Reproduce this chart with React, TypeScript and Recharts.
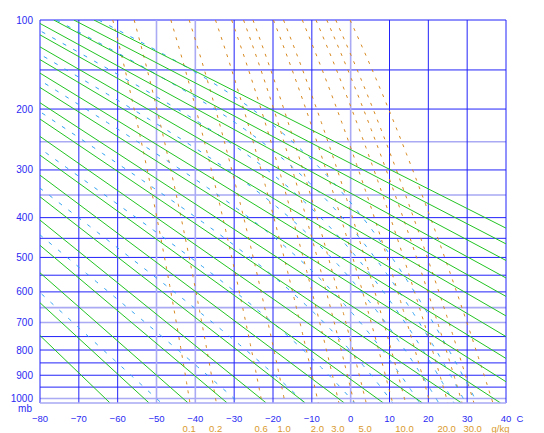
import React from "react";
import { LineChart, Line, XAxis, YAxis, ReferenceLine } from "recharts";

// Stuve diagram: x = temperature (C), y = pressure^kappa
const KAPPA = 0.286;
const TOP_P = 100;
const BOTTOM_P = 1020;

const isobars = [
  100, 150, 200, 250, 300, 350, 400, 450, 500, 550, 600, 650, 700, 750, 800,
  850, 900, 950, 1000,
];
const lightIsobars = [250, 350, 650, 700, 1000];
const pressureLabels = [100, 200, 300, 400, 500, 600, 700, 800, 900, 1000];
const isotherms = [-80, -70, -60, -50, -40, -30, -20, -10, 0, 10, 20, 30, 40];
const lightIsotherms = [-50, -40, 0];

// dry adiabats, potential temperature (K)
const dryAdiabats = [
  210, 220, 230, 240, 250, 260, 270, 280, 290, 300, 310, 320, 330, 340, 350,
  360, 370, 380, 390, 400,
];
// moist adiabats, temperature at 1000 mb (C)
const moistAdiabats = [-50, -30, -13, 0, 10, 17, 22, 26, 29, 32];
// saturation mixing ratio lines (g/kg)
const mixingRatios = [0.1, 0.2, 0.6, 1, 2, 3, 4, 5, 8, 10, 15, 20, 25, 30, 40];
const mixingLabels = [0.1, 0.2, 0.6, 1, 2, 3, 5, 10, 20, 30];
const unitLabel = "g/kg";

const RD = 287.04;
const CP = 1005.7;
const LV = 2.501e6;
const EPS = 0.622;

const ps = (p: number) => Math.pow(p, KAPPA);

const dewT = (w: number, p: number) => {
  const e = (w * p) / (622 + w);
  const l = Math.log(e / 6.112);
  return (243.5 * l) / (17.67 - l);
};

const satMix = (tK: number, p: number) => {
  const tc = tK - 273.15;
  const es = 6.112 * Math.exp((17.67 * tc) / (tc + 243.5));
  return (EPS * es) / (p - es);
};

const lapse = (tK: number, p: number) => {
  const rs = satMix(tK, p);
  return (RD * tK + LV * rs) / (CP + (LV * LV * rs * EPS) / (RD * tK * tK)) / p;
};

const integrate = (t0: number, from: number, to: number, h: number) => {
  const pts: { x: number; y: number }[] = [];
  let t = t0;
  let p = from;
  while ((h < 0 && p > to) || (h > 0 && p < to)) {
    const k1 = lapse(t, p);
    const k2 = lapse(t + (h / 2) * k1, p + h / 2);
    const k3 = lapse(t + (h / 2) * k2, p + h / 2);
    const k4 = lapse(t + h * k3, p + h);
    t += (h / 6) * (k1 + 2 * k2 + 2 * k3 + k4);
    p += h;
    pts.push({ x: t - 273.15, y: ps(p) });
  }
  return pts;
};

const moistLine = (tw: number) => {
  const up = integrate(tw + 273.15, 1000, TOP_P, -5).reverse();
  const down = integrate(tw + 273.15, 1000, BOTTOM_P, 5);
  return [...up, { x: tw, y: ps(1000) }, ...down];
};

const dryLine = (theta: number) =>
  [TOP_P, BOTTOM_P].map((p) => ({
    x: theta * Math.pow(p / 1000, KAPPA) - 273.15,
    y: ps(p),
  }));

const mixLine = (w: number) => {
  const pts: { x: number; y: number }[] = [];
  for (let p = TOP_P; p <= BOTTOM_P; p += 10) pts.push({ x: dewT(w, p), y: ps(p) });
  return pts;
};

const GRID = "#2222fa";
const GRID_LIGHT = "#a9a9f4";
const BLUE_TEXT = "#2a2af2";
const ORANGE_TEXT = "#d99a2e";
const FONT = "'Liberation Sans', Arial, sans-serif";

const mixTicks = [...mixingLabels.map((w) => dewT(w, 1000)), 38.6];
const mixTickText = [...mixingLabels.map((w) => w.toFixed(1)), unitLabel];

const TempTick = (props: any) => {
  const { x, y, payload } = props;
  const v = payload.value;
  const label = v < 0 ? "\u2212" + Math.abs(v) : String(v);
  return (
    <g fontFamily={FONT} fontSize={9.5} fill={BLUE_TEXT}>
      <text x={x} y={y + 18.5} textAnchor="middle">
        {label}
      </text>
      {v === 40 && (
        <text x={x + 14} y={y + 18.5} textAnchor="middle">
          C
        </text>
      )}
    </g>
  );
};

const MixTick = (props: any) => {
  const { x, y, payload } = props;
  const i = mixTicks.indexOf(payload.value);
  return (
    <text
      x={x}
      y={y + 14.5}
      textAnchor="middle"
      fontFamily={FONT}
      fontSize={9.5}
      fill={ORANGE_TEXT}
    >
      {mixTickText[i]}
    </text>
  );
};

const PressureTick = (props: any) => {
  const { x, y, payload } = props;
  const p = Math.round(Math.pow(payload.value, 1 / KAPPA));
  return (
    <g fontFamily={FONT} fontSize={10} fill={BLUE_TEXT}>
      <text x={x - 7} y={y + 3.5} textAnchor="end">
        {p}
      </text>
      {p === 1000 && (
        <text x={x - 8} y={y + 13} textAnchor="end">
          mb
        </text>
      )}
    </g>
  );
};

export default function App() {
  return (
    <div style={{ position: "absolute", left: 0, top: 0, background: "#fff" }}>
      <LineChart
        width={544}
        height={433}
        margin={{ top: 20, right: 38, bottom: 0, left: 0 }}
      >
        <XAxis
          dataKey="x"
          type="number"
          domain={[-80, 40]}
          ticks={isotherms}
          interval={0}
          allowDataOverflow
          tickLine={false}
          tickSize={0}
          tickMargin={0}
          height={14}
          axisLine={{ stroke: GRID_LIGHT, strokeWidth: 1.5 }}
          tick={<TempTick />}
        />
        <XAxis
          xAxisId="mr"
          dataKey="x"
          type="number"
          domain={[-80, 40]}
          ticks={mixTicks}
          interval={0}
          allowDataOverflow
          tickLine={false}
          tickSize={0}
          tickMargin={0}
          height={16}
          axisLine={false}
          tick={<MixTick />}
        />
        <YAxis
          type="number"
          domain={[ps(TOP_P), ps(BOTTOM_P)]}
          reversed
          allowDataOverflow
          ticks={pressureLabels.map(ps)}
          interval={0}
          width={40}
          tickLine={false}
          tickSize={0}
          tickMargin={0}
          axisLine={false}
          tick={<PressureTick />}
        />
        {isobars.map((p) => {
          const light = lightIsobars.includes(p);
          return (
            <ReferenceLine
              key={"p" + p}
              y={ps(p)}
              stroke={light ? GRID_LIGHT : GRID}
              strokeWidth={light ? 1.6 : 1}
            />
          );
        })}
        {isotherms.map((t) => {
          const light = lightIsotherms.includes(t);
          return (
            <ReferenceLine
              key={"t" + t}
              x={t}
              stroke={light ? GRID_LIGHT : GRID}
              strokeWidth={light ? 1.6 : 1}
            />
          );
        })}
        {mixingRatios.map((w) => (
          <Line
            key={"w" + w}
            xAxisId="mr"
            data={mixLine(w)}
            dataKey="y"
            type="linear"
            stroke="#d8891f"
            strokeWidth={1}
            strokeDasharray="3 6"
            dot={false}
            activeDot={false}
            isAnimationActive={false}
          />
        ))}
        {moistAdiabats.map((tw) => (
          <Line
            key={"m" + tw}
            data={moistLine(tw)}
            dataKey="y"
            type="linear"
            stroke="#2fa2f2"
            strokeWidth={1}
            strokeDasharray="4 8"
            dot={false}
            activeDot={false}
            isAnimationActive={false}
          />
        ))}
        {dryAdiabats.map((th) => (
          <Line
            key={"d" + th}
            data={dryLine(th)}
            dataKey="y"
            type="linear"
            stroke="#22c422"
            strokeWidth={1}
            dot={false}
            activeDot={false}
            isAnimationActive={false}
          />
        ))}
      </LineChart>
    </div>
  );
}
